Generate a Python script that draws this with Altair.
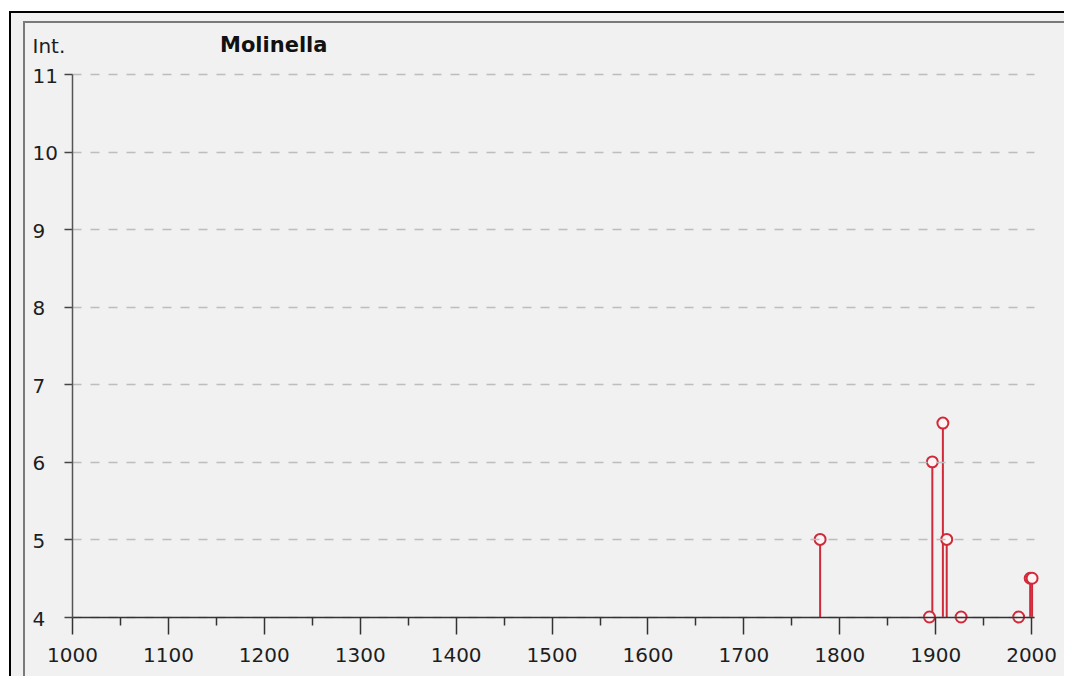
import altair as alt
import pandas as pd

# data
years = [1780, 1894, 1897, 1908, 1912, 1927, 1987, 1999, 2001]
intensity = [5, 4, 6, 6.5, 5, 4, 4, 4.5, 4.5]
x_ticks = list(range(1000, 2001, 50))
y_ticks = [4, 5, 6, 7, 8, 9, 10, 11]
title_text = ["Molinella"]

RED = "#d02a3a"
FONT = "DejaVu Sans"
TXT = "#1e1e1e"

df = pd.DataFrame({"year": years, "int": intensity, "base": [4] * len(years)})

xscale = alt.Scale(domain=[1000, 2003], nice=False, zero=False)
yscale = alt.Scale(domain=[4, 11], nice=False, zero=False)

xaxis = alt.Axis(
    values=x_ticks, format="d", zindex=1,
    labelExpr="datum.value % 100 === 0 ? datum.label : ''",
    tickSize={"condition": {"test": "datum.value % 100 === 0", "value": 17}, "value": 8},
    grid=False, domainColor="#333333", domainWidth=1.5, tickColor="#333333", tickWidth=1.5,
    labelFontSize=20, labelFont=FONT, labelColor=TXT, labelPadding=11,
    labelFlush=False, labelOverlap=False, title=None,
)
yaxis = alt.Axis(
    values=y_ticks, grid=True, gridDash=[9, 9], gridColor="#bdbdbd", gridWidth=1.5, zindex=1,
    tickSize=8, tickColor="#444444", tickWidth=1.5, domainColor="#555555", domainWidth=1.5,
    labelAlign="left", labelPadding=32, labelBaseline="middle", labelOffset=2,
    labelFontSize=20, labelFont=FONT, labelColor=TXT,
    title="Int.", titleAngle=0, titleAlign="left", titleBaseline="alphabetic",
    titleX=-40, titleY=-22, titleFontWeight="normal", titleFontSize=20,
    titleFont=FONT, titleColor=TXT,
)

frame_data = alt.Data(values=[{"k": 0}])
outer = alt.Chart(frame_data).mark_rect(
    fill="#f0f0f0", stroke="#000000", strokeWidth=2
).encode(x=alt.value(-62), y=alt.value(-62), x2=alt.value(1100), y2=alt.value(700))
inner = alt.Chart(frame_data).mark_rect(
    fill="#f1f1f1", stroke="#7a7a7a", strokeWidth=2
).encode(x=alt.value(-48), y=alt.value(-52), x2=alt.value(1100), y2=alt.value(700))

title = alt.Chart(pd.DataFrame({"t": title_text})).mark_text(
    align="left", baseline="alphabetic", fontSize=21, font=FONT, fontWeight="bold", color="#111111"
).encode(text="t:N", x=alt.value(148), y=alt.value(-22))

stems = alt.Chart(df).mark_rule(color=RED, strokeWidth=2).encode(
    x=alt.X("year:Q", scale=xscale, axis=xaxis),
    y=alt.Y("base:Q", scale=yscale, axis=yaxis),
    y2="int:Q",
)
points = alt.Chart(df).mark_circle(
    fill="#fff4f4", stroke=RED, strokeWidth=2, size=120, opacity=1
).encode(
    x=alt.X("year:Q", scale=xscale, axis=xaxis),
    y=alt.Y("int:Q", scale=yscale, axis=yaxis),
)

chart = alt.layer(outer, inner, stems, points, title).properties(
    width=962, height=543,
    autosize=alt.AutoSizeParams(type="none"),
    padding={"left": 64, "top": 66, "right": 30, "bottom": 59},
).configure(background="white").configure_view(stroke=None)

chart.save("out.html", embed_options={"renderer": "svg", "actions": False})
